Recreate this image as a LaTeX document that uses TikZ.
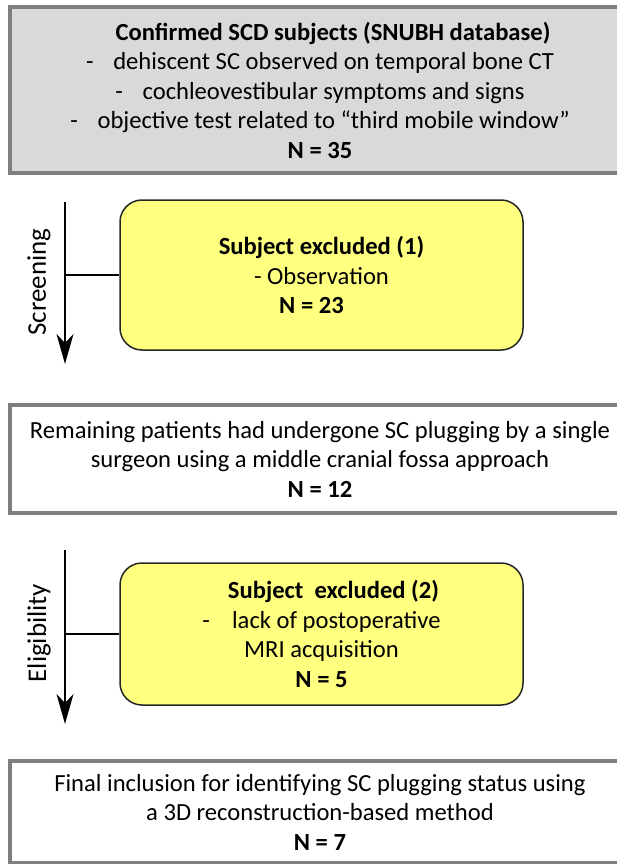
\documentclass[tikz,border=0pt]{standalone}
\usepackage{fontspec}
\setmainfont{Carlito}
\usepackage{tikz}
\usetikzlibrary{arrows.meta}
\definecolor{boxgray}{HTML}{D9D9D9}
\definecolor{edgegray}{HTML}{7F7F7F}
\definecolor{exyellow}{HTML}{FFFF80}
\tikzstyle{graybox} = [rectangle, draw=edgegray, line width=4.5pt, minimum width=620pt, align=center, inner sep=0pt]
\tikzstyle{exclbox} = [rectangle, rounded corners=22pt, draw=black!85, fill=exyellow, line width=1.5pt, minimum width=403pt, align=center, inner sep=0pt]
\tikzstyle{stage} = [rotate=90, font=\fontsize{27}{30}\selectfont]
\tikzstyle{flow} = [line width=1.3pt, -{Stealth[length=30pt,width=17pt,inset=9pt]}]

\begin{document}
\begin{tikzpicture}[x=1pt,y=-1pt,font=\fontsize{24.6}{29.5}\selectfont]
			\useasboundingbox (0,0) rectangle (617,864);
			\node[graybox, fill=boxgray, minimum height=166pt] (confirmed) at (320,90) {\hspace*{26pt}\textbf{Confirmed SCD subjects (SNUBH database)}\\
				-\hspace{0.8em}dehiscent SC observed on temporal bone CT\\
				-\hspace{0.8em}cochleovestibular symptoms and signs\\
				-\hspace{0.8em}objective test related to “third mobile window”\\
				\textbf{N = 35}};
			\node[exclbox, minimum height=150pt] (excl1) at (321.5,275) {\textbf{Subject excluded (1)}\\
				- Observation\hspace*{20pt}\\
				\textbf{N = 23}\hspace*{20pt}};
			\node[graybox, minimum height=108pt] (remaining) at (320,459) {Remaining patients had undergone SC plugging by a single\\
				surgeon using a middle cranial fossa approach\\
				\textbf{N = 12}};
			\node[exclbox, minimum height=142pt] (excl2) at (321.5,634) {\hspace*{24pt}\textbf{Subject\ \ excluded (2)}\\
				-\hspace{0.9em}lack of postoperative\\
				MRI acquisition\\
				\textbf{N = 5}};
			\node[graybox, minimum height=102pt] (final) at (320,812) {Final inclusion for identifying SC plugging status using\\
				a 3D reconstruction-based method\\
				\textbf{N = 7}};
			% screening step
			\coordinate (scrTop) at (65,202);
			\coordinate (scrEnd) at (65,364);
			\draw[flow] (scrTop) -- (scrEnd);
			\draw[line width=1.3pt] (excl1.west) -- (excl1.west -| scrTop);
			\node[stage] (scrLabel) at (39,282) {Screening};
			% eligibility step
			\coordinate (eliTop) at (65,550);
			\coordinate (eliEnd) at (65,724);
			\draw[flow] (eliTop) -- (eliEnd);
			\draw[line width=1.3pt] (excl2.west) -- (excl2.west -| eliTop);
			\node[stage] (eliLabel) at (39,633) {Eligibility};
		\end{tikzpicture}
\end{document}
